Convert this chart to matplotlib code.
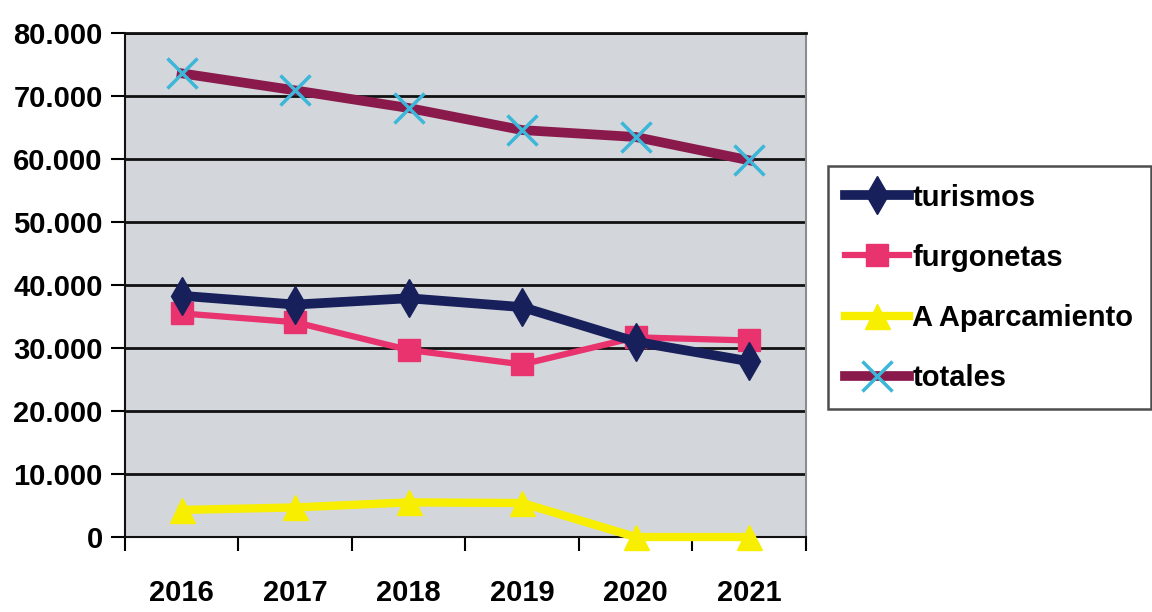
import matplotlib
matplotlib.use("Agg")
import matplotlib.pyplot as plt
from matplotlib import font_manager
from matplotlib.ticker import FuncFormatter

years = ["2016", "2017", "2018", "2019", "2020", "2021"]
turismos = [38300, 36900, 37900, 36500, 31000, 27900]
furgonetas = [35500, 34100, 29700, 27400, 31700, 31200]
aparcamiento = [4300, 4700, 5500, 5400, 0, 0]
totales = [73600, 70900, 68100, 64600, 63500, 59800]

# prefer a narrow face if one is around
installed = {f.name for f in font_manager.fontManager.ttflist}
families = [f for f in ['Liberation Sans Narrow', 'DejaVu Sans Condensed']
            if f in installed]
plt.rcParams['font.family'] = families + ['Liberation Sans', 'DejaVu Sans']
plt.rcParams['font.weight'] = 'bold'
fs = 24 if families else 21

fig = plt.figure(figsize=(11.52, 6.12), dpi=100)
ax = fig.add_axes([0.1085, 0.1225, 0.591, 0.8235])
ax.set_facecolor('#d3d7db')

x = list(range(len(years)))
ax.plot(x, turismos, color='#17205a', lw=7, marker='d', ms=19,
        label='turismos', zorder=4)
ax.plot(x, furgonetas, color='#e8336f', lw=4.5, marker='s', ms=16,
        label='furgonetas', zorder=3)
ax.plot(x, aparcamiento, color='#f7ee00', lw=6, marker='^', ms=18,
        label='A Aparcamiento', zorder=3, clip_on=False)
ax.plot(x, totales, color='#8a1a4b', lw=7, marker='x', ms=22, mew=2.5,
        mec='#3cb6d9', label='totales', zorder=4)

ax.set_xlim(-0.5, len(years) - 0.5)
ax.set_ylim(0, 80000)
ax.set_yticks(range(0, 80001, 10000))
ax.yaxis.set_major_formatter(FuncFormatter(
    lambda v, p: '0' if v == 0 else f'{int(v):,}'.replace(',', '.')))
ax.grid(axis='y', color='#111111', lw=2)
ax.set_axisbelow(True)

# year labels sit at the centres, ticks fall between categories
ax.set_xticks([i + 0.5 for i in range(-1, len(years))], minor=False)
ax.set_xticklabels([])
ax.set_xticks(x, minor=True)
ax.set_xticklabels(years, minor=True)
ax.tick_params(axis='x', which='major', length=10, width=1.5, direction='out')
ax.tick_params(axis='x', which='minor', length=0, pad=30, labelsize=fs)
ax.tick_params(axis='y', length=10, width=1.5, labelsize=fs, pad=6)

for s in ['left', 'bottom']:
    ax.spines[s].set_color('#111111')
    ax.spines[s].set_linewidth(1.5)
ax.spines['top'].set_color('#111111')
ax.spines['top'].set_linewidth(2)
ax.spines['right'].set_color('#8a8d90')
ax.spines['right'].set_linewidth(1.5)

leg = ax.legend(loc='upper left', bbox_to_anchor=(1.032, 0.736),
                fontsize=fs, frameon=True, fancybox=False, handlelength=2.2,
                handletextpad=0.1, borderpad=0.6, labelspacing=1.1,
                borderaxespad=0)
leg.get_frame().set_edgecolor('#222222')
leg.get_frame().set_linewidth(1.8)

fig.savefig('out.png', dpi=100)
